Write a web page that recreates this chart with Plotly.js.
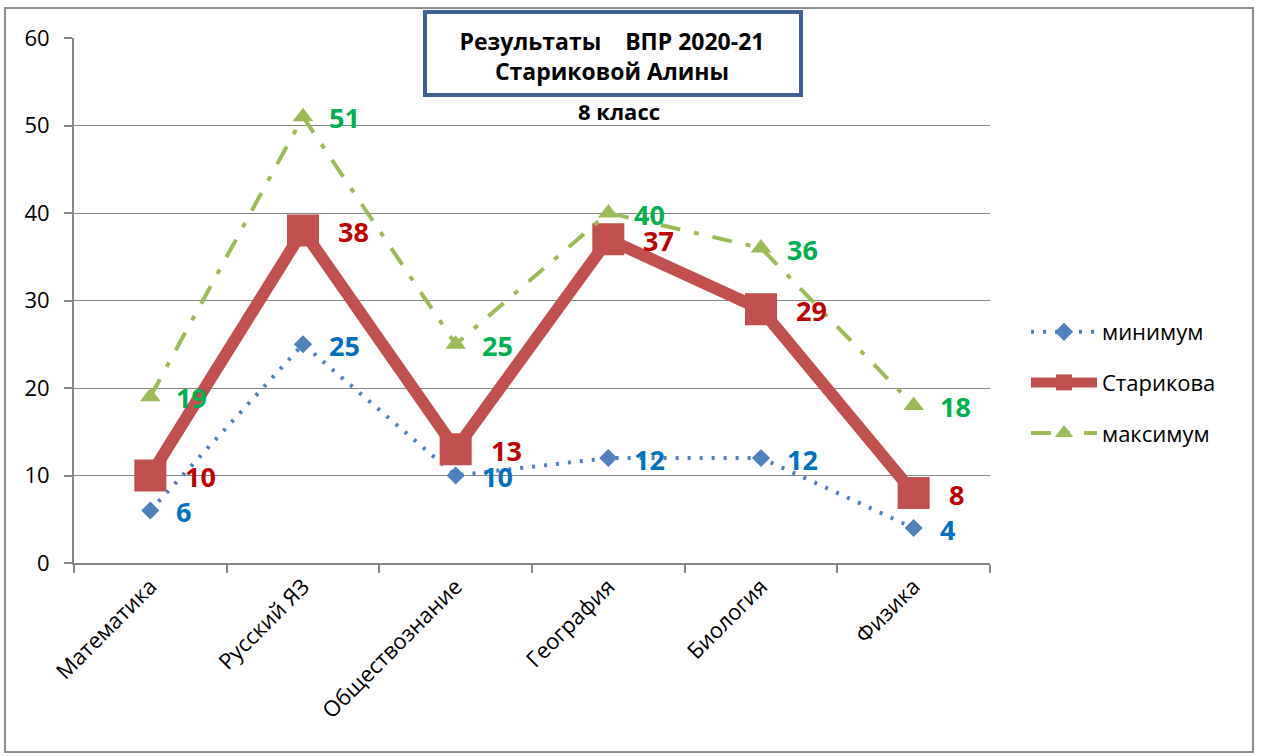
<!DOCTYPE html>
<html><head><meta charset="utf-8">
<script src="https://cdn.plot.ly/plotly-3.0.1.min.js"></script>
<style>html,body{margin:0;padding:0;background:#fff}#chart{width:1261px;height:756px}</style>
</head><body><div id="chart"></div>
<script>
const categories = ["Математика", "Русский ЯЗ", "Обществознание", "География", "Биология", "Физика"];
const minValues = [6, 25, 10, 12, 12, 4];
const starikovaValues = [10, 38, 13, 37, 29, 8];
const maxValues = [19, 51, 25, 40, 36, 18];
const seriesNames = ["минимум", "Старикова", "максимум"];
const yTicks = [0, 10, 20, 30, 40, 50, 60];
const titleText = "Результаты&nbsp;&nbsp;&nbsp;&nbsp;ВПР 2020-21<br>Стариковой Алины";
const subTitle = "8 класс";

const FONT = "Open Sans, Liberation Sans, sans-serif";

const traces = [
  {x: categories, y: minValues, name: seriesNames[0], type: "scatter", mode: "lines+markers",
   line: {color: "#4F81BD", width: 4, dash: "3px,9px"},
   marker: {symbol: "diamond", size: 14, color: "#4F81BD"}, legendgroup: "a", hoverinfo: "skip"},
  {x: categories, y: starikovaValues, name: seriesNames[1], type: "scatter", mode: "lines+markers",
   line: {color: "#C0504D", width: 12},
   marker: {symbol: "square", size: 32, color: "#C0504D"}, legendgroup: "b", hoverinfo: "skip"},
  {x: categories, y: maxValues, name: seriesNames[2], type: "scatter", mode: "lines+markers",
   line: {color: "#9BBB59", width: 4, dash: "20px,14px,5px,14px"},
   marker: {symbol: "triangle-up", size: 18, color: "#9BBB59"}, legendgroup: "c", hoverinfo: "skip"}
];

const labelSets = [
  {vals: minValues, color: "#0070C0", shift: 24},
  {vals: starikovaValues, color: "#C00000", shift: 33},
  {vals: maxValues, color: "#00B050", shift: 24}
];
const annotations = [];
labelSets.forEach(s => {
  s.vals.forEach((v, i) => {
    annotations.push({x: categories[i], y: v, xref: "x", yref: "y", text: String(v),
      showarrow: false, xanchor: "left", yanchor: "middle", xshift: s.shift, yshift: -1,
      font: {family: FONT, size: 27, color: s.color, weight: "bold"}});
  });
});
annotations.push({xref: "paper", yref: "paper", x: (619 - 74) / 916, y: (563 - 111) / 525,
  text: "<b>" + subTitle + "</b>", showarrow: false, xanchor: "center", yanchor: "middle",
  font: {family: FONT, size: 22, color: "#000"}});

const layout = {
  width: 1261, height: 756,
  paper_bgcolor: "#fff", plot_bgcolor: "#fff",
  margin: {l: 74, r: 271, t: 38, b: 193},
  title: {text: "<b>" + titleText + "</b>", x: 612 / 1261, xanchor: "center",
    y: 1 - 50 / 756, yanchor: "middle",
    font: {family: FONT, size: 23, color: "#000"}},
  showlegend: true,
  legend: {x: (1026 - 74) / 916, xanchor: "left", y: (563 - 311) / 525, yanchor: "top",
    font: {family: FONT, size: 22, color: "#000"}, tracegroupgap: 19, itemwidth: 66,
    bgcolor: "rgba(0,0,0,0)"},
  xaxis: {type: "category", range: [-0.5, 5.5], showgrid: false, showline: true,
    linecolor: "#868686", linewidth: 2, ticks: "outside", tickson: "boundaries", ticklen: 8,
    tickcolor: "#868686", tickwidth: 2, tickangle: -45,
    tickfont: {family: FONT, size: 22, color: "#000"}, zeroline: false, fixedrange: true},
  yaxis: {range: [0, 60], tickvals: yTicks, showgrid: true, gridcolor: "#868686", gridwidth: 1,
    showline: true, linecolor: "#868686", linewidth: 2, ticks: "outside", ticklen: 8,
    tickcolor: "#868686", tickwidth: 2, ticklabelstandoff: 10,
    tickfont: {family: FONT, size: 22, color: "#000"}, zeroline: false, fixedrange: true},
  shapes: [
    {type: "rect", xref: "paper", yref: "paper", layer: "above",
     x0: (5 - 74) / 916, x1: (1253 - 74) / 916, y0: (563 - 752) / 525, y1: (563 - 8) / 525,
     line: {color: "#8C8C8C", width: 2}, fillcolor: "rgba(0,0,0,0)"},
    {type: "rect", xref: "paper", yref: "paper", layer: "above",
     x0: (425 - 74) / 916, x1: (801 - 74) / 916, y0: (563 - 95) / 525, y1: (563 - 12) / 525,
     line: {color: "#3D6190", width: 4}, fillcolor: "#fff"}
  ],
  annotations: annotations,
  hovermode: false
};

Plotly.newPlot("chart", traces, layout, {displayModeBar: false, staticPlot: true});
</script></body></html>
